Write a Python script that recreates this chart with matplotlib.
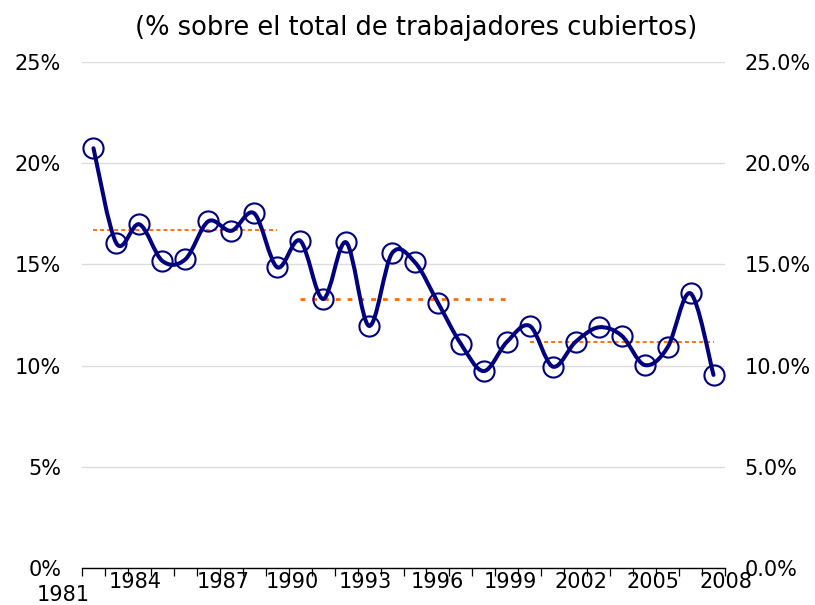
import numpy as np
import matplotlib
matplotlib.use("Agg")
import matplotlib.pyplot as plt
from matplotlib.path import Path
from matplotlib.patches import PathPatch
from matplotlib.ticker import FixedLocator, FuncFormatter

# Share of covered workers, one value per year 1981-2008 (%)
years = list(range(1981, 2009))
share = [20.74, 16.04, 16.98, 15.17, 15.25, 17.13, 16.66, 17.52, 14.86,
         16.17, 13.29, 16.09, 11.96, 15.55, 15.10, 13.11, 11.07, 9.73,
         11.17, 11.96, 9.95, 11.18, 11.89, 11.48, 10.03, 10.90, 13.57, 9.54]

# period averages (first year, last year, value)
avg_start = [1981, 1990, 2000]
avg_end = [1989, 1999, 2008]
avg_value = [16.70, 13.27, 11.18]

label_years = [1981, 1984, 1987, 1990, 1993, 1996, 1999, 2002, 2005, 2008]
# where the labels sit along the axis (category units)
label_pos = [-1.33, 1.80, 5.63, 8.67, 11.85, 14.98, 18.15, 21.24, 24.37, 27.55]

navy = "#000080"
orange = "#FF6600"
plt.rcParams['font.family'] = ['DejaVu Sans']

fig = plt.figure(figsize=(8.15, 6.05), dpi=100)
ax = fig.add_axes([82 / 815, 1 - 568 / 605, (725 - 82) / 815, (568 - 62) / 605])

x = np.arange(len(years))
y = np.array(share) / 100

# smoothed line (Catmull-Rom style bezier, like the spreadsheet "smoothed line")
pts = np.column_stack([x, y])
verts = [pts[0]]
codes = [Path.MOVETO]
for i in range(len(pts) - 1):
    p0 = pts[i - 1] if i > 0 else pts[i]
    p1 = pts[i]
    p2 = pts[i + 1]
    p3 = pts[i + 2] if i + 2 < len(pts) else pts[i + 1]
    verts += [p1 + (p2 - p0) / 6, p2 - (p3 - p1) / 6, p2]
    codes += [Path.CURVE4] * 3
ax.add_patch(PathPatch(Path(verts, codes), facecolor="none", edgecolor=navy,
                       lw=2.9, capstyle="round", joinstyle="round", zorder=3))
ax.plot(x, y, linestyle="none", marker="o", markersize=14.5,
        markerfacecolor="none", markeredgecolor=navy, markeredgewidth=1.5, zorder=4)

# averages
dash_styles = [(0, (2.2, 1.7)), (0, (1.75, 2.6)), (0, (2.2, 1.7))]
dash_widths = [1.3, 1.95, 1.3]
for s, e, v, ls, lw in zip(avg_start, avg_end, avg_value, dash_styles, dash_widths):
    ax.plot([s - 1981, e - 1981], [v / 100, v / 100], color=orange,
            linestyle=ls, lw=lw, zorder=2)

ax.set_xlim(-0.5, len(years) - 0.5)
ax.set_ylim(0, 0.25)
yt = [0, 0.05, 0.10, 0.15, 0.20, 0.25]
ax.set_yticks(yt)
ax.yaxis.set_major_formatter(FuncFormatter(lambda v, p: f"{v * 100:.0f}%"))
ax.grid(axis="y", color="#dcdcdc", lw=1)
ax.set_axisbelow(True)
for s in ["top", "right", "left"]:
    ax.spines[s].set_visible(False)
ax.spines["bottom"].set_color("black")
ax.spines["bottom"].set_linewidth(1)
ax.tick_params(axis="y", length=0, pad=15, labelsize=15)

# category boundary tick marks
ax.set_xticks([])
ax.xaxis.set_minor_locator(FixedLocator(np.arange(-0.5, len(years), 1)))
ax.tick_params(axis="x", which="minor", length=6, width=0.9, color="black", direction="out")

for i, (yr, pos) in enumerate(zip(label_years, label_pos)):
    ax.annotate(str(yr), xy=(pos, 0), xycoords=("data", "axes fraction"),
                xytext=(0, -27 if i == 0 else -14), textcoords="offset pixels",
                ha="center", va="center", fontsize=15, annotation_clip=False)

ax2 = ax.twinx()
ax2.set_ylim(0, 0.25)
ax2.set_yticks(yt)
ax2.yaxis.set_major_formatter(FuncFormatter(lambda v, p: f"{v * 100:.1f}%"))
for s in ["top", "right", "left", "bottom"]:
    ax2.spines[s].set_visible(False)
ax2.tick_params(axis="y", length=0, pad=14, labelsize=15)

fig.text(416 / 815, 1 - 28 / 605, "(% sobre el total de trabajadores cubiertos)",
         ha="center", va="center", fontsize=18.5)

fig.savefig("out.png", dpi=100)
